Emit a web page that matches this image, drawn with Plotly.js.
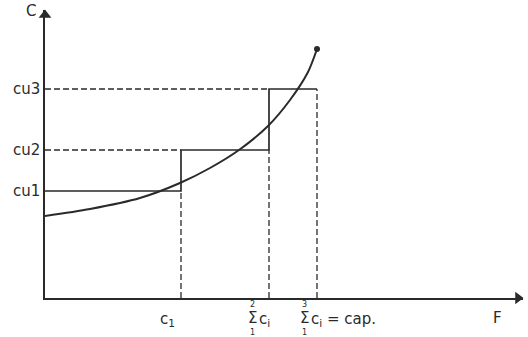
<!DOCTYPE html>
<html><head><meta charset="utf-8">
<script src="https://cdn.plot.ly/plotly-3.0.1.min.js"></script>
<style>html,body{margin:0;padding:0;background:#fff}</style>
</head><body><div id="chart" style="width:528px;height:337px"></div>
<script>
// Capacity steps along F axis
var stepF = [0, 136, 224, 272];          // 0, c1, sum(2) ci, sum(3) ci = cap
var unitCost = [107, 148, 209];          // cu1, cu2, cu3
var unitLabels = ['cu1', 'cu2', 'cu3'];
// Cost curve C(F)
var curveF = [0, 45, 95, 135, 165, 194, 223, 245, 263, 272];
var curveC = [82, 89, 100, 115, 130, 148, 172, 198, 226, 249];
var axisMaxF = 478, axisMaxC = 288;

var ink = '#2a2a2a';
var traces = [];
traces.push({x: stepF, y: unitCost.concat([unitCost[2]]), mode: 'lines', line: {shape: 'hv', color: ink, width: 1.7}, hoverinfo: 'skip'});
for (var i = 1; i < stepF.length; i++) {
  traces.push({x: [stepF[i], stepF[i]], y: [0, unitCost[i - 1]], mode: 'lines', line: {color: ink, width: 1.3, dash: '6px,3px'}, hoverinfo: 'skip'});
}
for (var j = 1; j < unitCost.length; j++) {
  traces.push({x: [0, stepF[j]], y: [unitCost[j], unitCost[j]], mode: 'lines', line: {color: ink, width: 1.3, dash: '6px,3px'}, hoverinfo: 'skip'});
}
traces.push({x: curveF, y: curveC, mode: 'lines', line: {shape: 'spline', smoothing: 0.8, color: ink, width: 2}, hoverinfo: 'skip'});
traces.push({x: [curveF[curveF.length - 1]], y: [curveC[curveC.length - 1]], mode: 'markers', marker: {color: ink, size: 6}, hoverinfo: 'skip'});
// axis arrowheads
traces.push({x: [axisMaxF - 5, 0], y: [0, axisMaxC - 5], mode: 'markers', cliponaxis: false,
  marker: {symbol: ['triangle-right', 'triangle-up'], size: 11, color: ink}, hoverinfo: 'skip'});

var font = {family: 'DejaVu Sans, sans-serif', size: 15, color: ink};
var sig = {family: 'DejaVu Sans, sans-serif', size: 15, color: ink};
var small = {family: 'DejaVu Sans, sans-serif', size: 8, color: ink};
function px(v) { return v / axisMaxF; }
function py(v) { return v / axisMaxC; }
function label(x, y, text, f, anchor) {
  return {x: px(x), y: py(y), xref: 'paper', yref: 'paper', text: text, showarrow: false, font: f, borderpad: 0, xanchor: anchor || 'center', yanchor: 'middle'};
}
var ann = [];
ann.push(label(-14, axisMaxC - 1, 'C', font));
ann.push(label(452, -20, 'F', font));
for (var k = 0; k < unitCost.length; k++) {
  ann.push(label(-4, unitCost[k], unitLabels[k], font, 'right'));
}
ann.push(label(stepF[1] - 14, -21, 'c<sub>1</sub>', font));
ann.push(label(stepF[2] - 17, -20, 'Σ', sig));
ann.push(label(stepF[2] - 17, -6, '2', small));
ann.push(label(stepF[2] - 17, -34, '1', small));
ann.push(label(stepF[2] - 11, -21, 'c<sub>i</sub>', font, 'left'));
ann.push(label(stepF[3] - 13, -20, 'Σ', sig));
ann.push(label(stepF[3] - 13, -6, '3', small));
ann.push(label(stepF[3] - 13, -34, '1', small));
ann.push(label(stepF[3] - 7, -21, 'c<sub>i</sub> = cap.', font, 'left'));

var layout = {
  width: 528, height: 337,
  margin: {l: 45, r: 5, t: 10, b: 39},
  paper_bgcolor: '#fff', plot_bgcolor: '#fff',
  showlegend: false,
  xaxis: {range: [0, axisMaxF], showline: true, linecolor: ink, linewidth: 1.8, showgrid: false, zeroline: false, showticklabels: false, ticks: ''},
  yaxis: {range: [0, axisMaxC], showline: true, linecolor: ink, linewidth: 1.8, showgrid: false, zeroline: false, showticklabels: false, ticks: ''},
  annotations: ann
};
Plotly.newPlot('chart', traces, layout, {displayModeBar: false, staticPlot: true});
</script></body></html>
